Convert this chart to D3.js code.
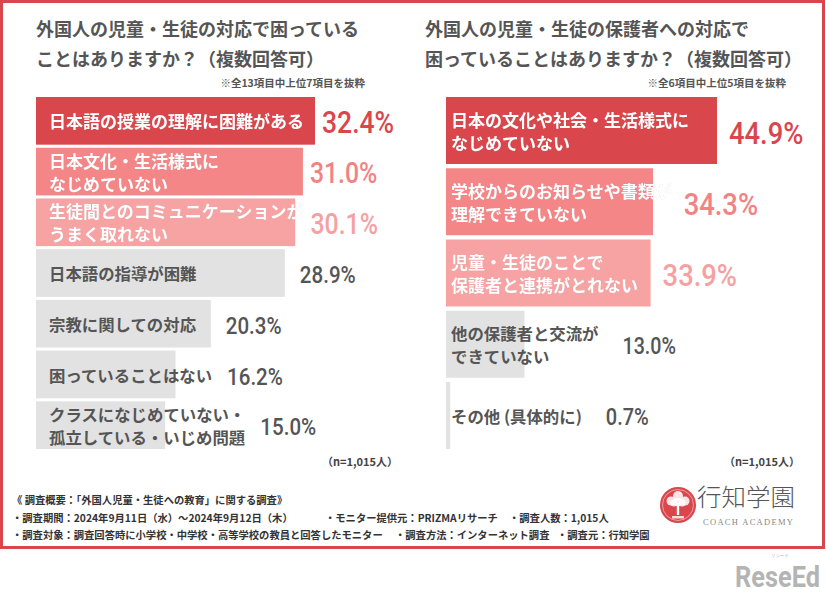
<!DOCTYPE html>
<html>
<head>
<meta charset="utf-8">
<script src="https://cdn.jsdelivr.net/npm/d3@7"></script>
<style>
  html, body { margin: 0; padding: 0; background: #fff; }
  svg { display: block; }
</style>
</head>
<body>
<div id="chart"></div>
<script>
const leftTitle = ["外国人の児童・生徒の対応で困っている", "ことはありますか？（複数回答可）"];
const leftNote = "※全13項目中上位7項目を抜粋";
const leftLabels = [
  "日本語の授業の理解に困難がある",
  "日本文化・生活様式に\nなじめていない",
  "生徒間とのコミュニケーションが\nうまく取れない",
  "日本語の指導が困難",
  "宗教に関しての対応",
  "困っていることはない",
  "クラスになじめていない・\n孤立している・いじめ問題"
];
const leftValues = [32.4, 31.0, 30.1, 28.9, 20.3, 16.2, 15.0];

const rightTitle = ["外国人の児童・生徒の保護者への対応で", "困っていることはありますか？（複数回答可）"];
const rightNote = "※全6項目中上位5項目を抜粋";
const rightLabels = [
  "日本の文化や社会・生活様式に\nなじめていない",
  "学校からのお知らせや書類が\n理解できていない",
  "児童・生徒のことで\n保護者と連携がとれない",
  "他の保護者と交流が\nできていない",
  "その他 (具体的に)"
];
const rightValues = [44.9, 34.3, 33.9, 13.0, 0.7];

const sampleNote = "（n=1,015人）";

const W = 826, H = 593;
const red = "#d9474c";
const barFill = ["#d9474c", "#f58688", "#f7a3a4"];
const valFill = ["#d9474c", "#f28284", "#f5a1a2"];
const gray = "#e2e2e2";
const ink = "#555555";
const jp = "'Noto Sans CJK JP', 'Noto Sans', sans-serif";
const num = "Roboto, 'DejaVu Sans Condensed', sans-serif";

// narrow DIN-like width of a percentage string, in em
function narrowWidth(s) {
  let w = 0;
  for (const c of s) w += c === "." ? 0.228 : c === "%" ? 0.729 : 0.456;
  return w;
}

const svg = d3.select("#chart").append("svg")
  .attr("width", W).attr("height", H)
  .attr("viewBox", `0 0 ${W} ${H}`);

const defs = svg.append("defs");
defs.append("filter").attr("id", "halo")
  .attr("x", "-5%").attr("y", "-20%").attr("width", "110%").attr("height", "140%")
  .append("feDropShadow")
  .attr("dx", 0).attr("dy", 0).attr("stdDeviation", 0.6)
  .attr("flood-color", "#000").attr("flood-opacity", 0.35);

// frame
svg.append("rect")
  .attr("x", 1.5).attr("y", 1.5).attr("width", 822).attr("height", 546)
  .attr("fill", "#fff").attr("stroke", red).attr("stroke-width", 3);

function panel(opt) {
  const g = svg.append("g");

  opt.title.forEach((t, i) => {
    g.append("text")
      .attr("x", opt.x0 + opt.titleDx).attr("y", 30 + i * 30).attr("dy", "0.36em")
      .attr("fill", ink).attr("font-family", jp).attr("font-weight", 700)
      .attr("font-size", 18).text(t);
  });
  g.append("text")
    .attr("x", opt.noteX).attr("y", 83).attr("dy", "0.36em")
    .attr("text-anchor", "end")
    .attr("fill", ink).attr("font-family", jp).attr("font-weight", 700)
    .attr("font-size", 10.5).text(opt.note);

  const x = d3.scaleLinear().domain([0, d3.max(opt.values)]).range([0, opt.maxW]);
  const y = d3.scaleBand().domain(d3.range(opt.values.length)).range([97, 449]).paddingInner(0.06);

  const rows = g.selectAll("g.row").data(opt.values).join("g").attr("class", "row");

  rows.append("rect")
    .attr("x", opt.x0).attr("y", (d, i) => y(i))
    .attr("width", d => x(d)).attr("height", y.bandwidth())
    .attr("fill", (d, i) => i < 3 ? barFill[i] : gray);

  rows.each(function (d, i) {
    const row = d3.select(this);
    const lines = opt.labels[i].split("\n");
    const cy = y(i) + y.bandwidth() / 2 + 1.5;
    const hi = i < 3;
    let labelEnd = 0;
    lines.forEach((ln, k) => {
      const t = row.append("text")
        .attr("x", opt.x0 + opt.inset)
        .attr("y", cy + (k - (lines.length - 1) / 2) * 23)
        .attr("dy", "0.36em")
        .attr("fill", hi ? "#fff" : ink)
        .attr("font-family", jp).attr("font-weight", 700)
        .attr("font-size", hi ? 17 : 16.4)
        .attr("filter", hi ? "url(#halo)" : null)
        .text(ln);
      labelEnd = Math.max(labelEnd, opt.x0 + opt.inset + t.node().getComputedTextLength());
    });
    const vx = Math.max(opt.x0 + x(d), labelEnd) + (hi ? opt.gapHi : opt.gapLo);
    const size = opt.valSize(i);
    const str = d.toFixed(1) + "%";
    row.append("text")
      .attr("x", vx).attr("y", cy).attr("dy", "0.36em")
      .attr("fill", hi ? valFill[i] : ink)
      .attr("font-family", num).attr("font-weight", 500)
      .attr("font-size", size)
      .attr("textLength", narrowWidth(str) * size)
      .attr("lengthAdjust", "spacingAndGlyphs")
      .text(str);
  });

  g.append("text")
    .attr("x", opt.nX).attr("y", 462).attr("dy", "0.36em")
    .attr("text-anchor", "end")
    .attr("fill", "#444").attr("font-family", jp).attr("font-weight", 700)
    .attr("font-size", 11).text(sampleNote);
}

panel({
  title: leftTitle, note: leftNote, labels: leftLabels, values: leftValues,
  x0: 36, titleDx: 0, noteX: 365, maxW: 279, inset: 13, gapHi: 7, gapLo: 15,
  valSize: i => i === 0 ? 31 : (i < 3 ? 29 : 24), nX: 398
});
panel({
  title: rightTitle, note: rightNote, labels: rightLabels, values: rightValues,
  x0: 446, titleDx: -21, noteX: 786, maxW: 271, inset: 5, gapHi: 12, gapLo: 24,
  valSize: i => i < 3 ? 32 : 23, nX: 800
});

// survey notes
const foot = svg.append("g")
  .attr("fill", "#333").attr("font-family", jp).attr("font-weight", 700).attr("font-size", 10.3);
[
  [12, 500, "《 調査概要：「外国人児童・生徒への教育」に関する調査》"],
  [12, 518, "・調査期間：2024年9月11日（水）～2024年9月12日（木）"],
  [325, 518, "・モニター提供元：PRIZMAリサーチ"],
  [509, 518, "・調査人数：1,015人"],
  [12, 535, "・調査対象：調査回答時に小学校・中学校・高等学校の教員と回答したモニター"],
  [395, 535, "・調査方法：インターネット調査"],
  [557, 535, "・調査元：行知学園"]
].forEach(([fx, fy, t]) => {
  foot.append("text").attr("x", fx).attr("y", fy).attr("dy", "0.36em").text(t);
});

// 行知学園 logo
const logo = svg.append("g").attr("transform", "translate(678,505)");
logo.append("circle").attr("r", 18).attr("fill", red);
logo.append("circle").attr("r", 15.5).attr("fill", "none").attr("stroke", "#fff").attr("stroke-width", 0.6).attr("opacity", 0.8);
logo.append("rect").attr("x", -1.2).attr("y", -2).attr("width", 2.4).attr("height", 12).attr("fill", "#fff");
[[-7, -4, 4.5], [7, -4, 4.5], [0, -9, 5], [-4, -2, 3.5], [4, -2, 3.5], [0, -3, 4]].forEach(([cx, cy, r]) => {
  logo.append("circle").attr("cx", cx).attr("cy", cy).attr("r", r).attr("fill", "#fff").attr("opacity", 0.85);
});
logo.append("rect").attr("x", -6).attr("y", 11).attr("width", 12).attr("height", 2.5).attr("fill", "#fff").attr("opacity", 0.8);
svg.append("text")
  .attr("x", 697).attr("y", 497).attr("dy", "0.36em")
  .attr("fill", "#555").attr("font-family", jp).attr("font-weight", 300)
  .attr("font-size", 24).attr("textLength", 98).attr("lengthAdjust", "spacingAndGlyphs")
  .text("行知学園");
svg.append("text")
  .attr("x", 703).attr("y", 522).attr("dy", "0.36em")
  .attr("fill", "#888").attr("font-family", "'Liberation Serif', 'DejaVu Serif', serif")
  .attr("font-size", 8.5).attr("textLength", 90).attr("lengthAdjust", "spacing")
  .text("COACH ACADEMY");

// ReseEd mark
svg.append("text")
  .attr("x", 771).attr("y", 557)
  .attr("fill", "#b8b8b8").attr("font-family", jp).attr("font-size", 4.5)
  .text("リシード");
svg.append("text")
  .attr("transform", "translate(735,587) scale(1,1.25)")
  .attr("fill", "#b4b4b4").attr("font-family", num).attr("font-weight", 700)
  .attr("font-size", 24).attr("textLength", 85).attr("lengthAdjust", "spacingAndGlyphs")
  .text("ReseEd");
</script>
</body>
</html>
